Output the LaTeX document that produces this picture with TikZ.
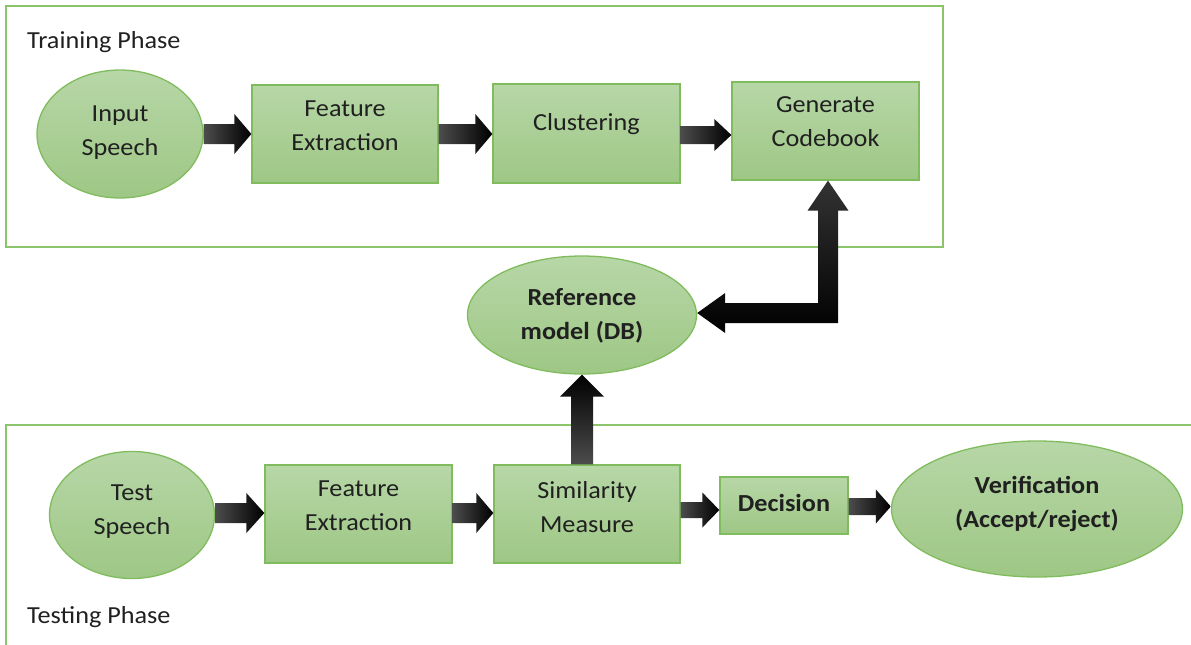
\documentclass[tikz,border=0pt]{standalone}
\usepackage{fontspec}
\setmainfont{Carlito}[FakeStretch=1.07]
\usetikzlibrary{shapes.geometric,calc}

\definecolor{boxtop}{RGB}{183,215,167}
\definecolor{boxbot}{RGB}{158,199,133}
\definecolor{boxline}{RGB}{128,188,94}
\definecolor{frameline}{RGB}{140,196,108}
\definecolor{ink}{RGB}{32,32,32}

\tikzset{
  stage/.style={rectangle, draw=boxline, line width=1.3pt,
    top color=boxtop, bottom color=boxbot, inner sep=0pt},
  oval/.style={stage, ellipse},
  lbl/.style={align=center, inner sep=0pt, text=ink,
    font=\fontsize{24.5}{34}\selectfont},
  blbl/.style={lbl, font=\fontsize{24.5}{34}\selectfont\bfseries},
  frame/.style={draw=frameline, line width=1.3pt},
  phase/.style={anchor=base west, inner sep=0pt, text=ink,
    font=\fontsize{24.5}{28}\selectfont},
  hshade/.style={left color=black!70, middle color=black, right color=black},
  vshade/.style={bottom color=black!70, middle color=black, top color=black},
  eshade/.style={top color=black!80, bottom color=black},
}

% horizontal block arrow: tail, tip, shaft half-height, head half-height, head length
\newcommand\hblock[5]{%
  \path[hshade] let \p1=(#1), \p2=(#2) in
    (\x1,\y1+#3pt) -- (\x2-#5pt,\y1+#3pt) -- (\x2-#5pt,\y1+#4pt) -- (\x2,\y1)
    -- (\x2-#5pt,\y1-#4pt) -- (\x2-#5pt,\y1-#3pt) -- (\x1,\y1-#3pt) -- cycle;}

% vertical block arrow pointing up: tail, tip, shaft half-width, head half-width, head length
\newcommand\vblock[5]{%
  \path[vshade] let \p1=(#1), \p2=(#2) in
    (\x2-#3pt,\y1) -- (\x2-#3pt,\y2-#5pt) -- (\x2-#4pt,\y2-#5pt) -- (\x2,\y2)
    -- (\x2+#4pt,\y2-#5pt) -- (\x2+#3pt,\y2-#5pt) -- (\x2+#3pt,\y1) -- cycle;}

\begin{document}
\begin{tikzpicture}[x=1pt, y=1pt]
\useasboundingbox (0,0) rectangle (1191,-645);

% phase frames
\draw[frame] (6,-6) rectangle (943,-247);
\draw[frame] (6,-660) -- (6,-425) -- (1200,-425);
\node[phase] (trainlbl) at (27,-48) {Training Phase};
\node[phase] (testlbl) at (27,-623) {Testing Phase};

% training chain
\node[oval, minimum width=166, minimum height=128] (in) at (120,-134) {};
\node[lbl] (in-t) at (120,-133) {Input\\Speech};
\node[stage, minimum width=186, minimum height=98] (fe1) at (345,-134) {};
\node[lbl] (fe1-t) at (345,-126) {Feature\\Extraction};
\node[stage, minimum width=187, minimum height=99] (cl) at (586.5,-133.5) {};
\node[lbl] (cl-t) at (586.5,-124) {Clustering};
\node[stage, minimum width=187, minimum height=98] (gc) at (825.5,-131) {};
\node[lbl] (gc-t) at (825.5,-122) {Generate\\Codebook};

% reference model
\node[oval, minimum width=229, minimum height=118] (ref) at (582,-315) {};
\node[blbl] (ref-t) at (582,-316) {Reference\\model (DB)};

% testing chain
\node[oval, minimum width=165, minimum height=127] (ts) at (132,-515) {};
\node[lbl] (ts-t) at (132,-512) {Test\\Speech};
\node[stage, minimum width=187, minimum height=98] (fe2) at (358.5,-514) {};
\node[lbl] (fe2-t) at (358.5,-506) {Feature\\Extraction};
\node[stage, minimum width=186, minimum height=98] (sm) at (587,-514) {};
\node[lbl] (sm-t) at (587,-507) {Similarity\\Measure};
\node[stage, minimum width=128, minimum height=57] (dec) at (784,-505.5) {};
\node[blbl] (dec-t) at (784,-503) {Decision};
\node[oval, minimum width=291, minimum height=136] (ver) at (1037,-509) {};
\node[blbl] (ver-t) at (1037,-504) {Verification\\(Accept/reject)};

% block arrows
\hblock{in.east}{fe1.west}{10}{20}{17}
\hblock{fe1.east}{cl.west}{10}{20}{17}
\hblock{$(cl.east)+(0,-1.5)$}{gc.west}{9}{16}{17}
\hblock{$(ts.east)+(0,2)$}{fe2.west}{10}{20}{18}
\hblock{$(fe2.east)+(0,1)$}{sm.west}{10}{20}{17}
\hblock{$(sm.east)+(0,4)$}{dec.west}{8}{17.5}{17}
\hblock{$(dec.east)+(0,-1)$}{ver.west}{8.5}{17}{15}
\vblock{sm.north}{ref.south}{11}{22}{22}

% codebook to reference model elbow arrow
\path[eshade] let \p1=(ref.east), \p2=(gc.south) in
  (\x2+2.5pt,\y2) -- (\x2+23pt,\y2-30pt) -- (\x2+12.5pt,\y2-30pt)
  -- (\x2+12.5pt,\y1-8pt) -- (\x1+28pt,\y1-8pt) -- (\x1+28pt,\y1-18pt)
  -- (\x1,\y1+2pt) -- (\x1+28pt,\y1+22pt) -- (\x1+28pt,\y1+12pt)
  -- (\x2-7.5pt,\y1+12pt) -- (\x2-7.5pt,\y2-30pt) -- (\x2-18pt,\y2-30pt) -- cycle;
\end{tikzpicture}
\end{document}
